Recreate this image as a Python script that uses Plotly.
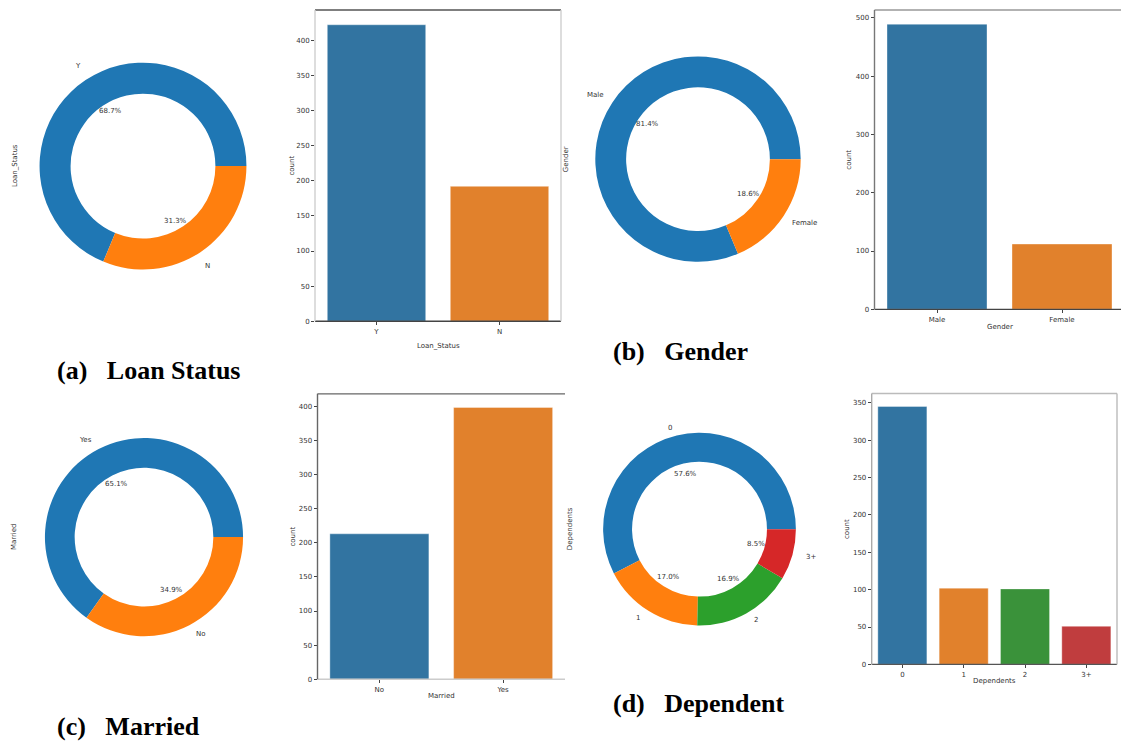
import numpy as np
import plotly.graph_objects as go

W, H = 1121, 743

# ---- data -------------------------------------------------------------
loan_status_labels = ["Y", "N"]
loan_status_counts = [422, 192]

gender_labels = ["Male", "Female"]
gender_counts = [489, 112]

married_labels = ["Yes", "No"]
married_counts = [398, 213]
married_bar_order = ["No", "Yes"]

dependents_labels = ["0", "1", "2", "3+"]
dependents_counts = [345, 102, 101, 51]

# ---- styling ----------------------------------------------------------
PIE_COLORS = ["#1f77b4", "#ff7f0e", "#2ca02c", "#d62728"]
BAR_COLORS = ["#3274a1", "#e1812c", "#3a923a", "#c03d3e"]
FONT = "DejaVu Sans"
TXT = "#333333"
SMALL = 7


def px(x):
    return x / W


def py(y):
    return 1 - y / H


panels = [
    dict(name="Loan_Status", labels=loan_status_labels, counts=loan_status_counts,
         bar_order=loan_status_labels, caption="(a)\u00a0\u00a0\u00a0Loan Status",
         cap_xy=(55, 373),
         pie_c=(143, 167), rx=98, ry=110, ylab_x=15,
         box=(315, 561, 10, 323), xright=None, dtick=50,
         spines=dict(top="#555", bottom="#444", left="#cfcfcf", right="#cfcfcf"),
         ytitle_x=292, xtitle_y=348),
    dict(name="Gender", labels=gender_labels, counts=gender_counts,
         bar_order=gender_labels, caption="(b)\u00a0\u00a0\u00a0Gender",
         cap_xy=(611, 353),
         pie_c=(698, 160), rx=100.5, ry=106, ylab_x=566,
         box=(874.5, 1124.5, 10, 311), xright=1121, dtick=100,
         spines=dict(top="#999", bottom="#444", left="#777", right=None),
         ytitle_x=849, xtitle_y=329),
    dict(name="Married", labels=married_labels, counts=married_counts,
         bar_order=married_bar_order, caption="(c)\u00a0\u00a0\u00a0Married",
         cap_xy=(55, 730),
         pie_c=(144, 540), rx=99.5, ry=99.7, ylab_x=14,
         box=(317.5, 565, 396, 683), xright=None, dtick=50,
         spines=dict(top="#666", bottom="#cccccc", left="#666", right=None),
         ytitle_x=293, xtitle_y=700),
    dict(name="Dependents", labels=dependents_labels, counts=dependents_counts,
         bar_order=dependents_labels, caption="(d)\u00a0\u00a0\u00a0Dependent",
         cap_xy=(611, 707),
         pie_c=(699.5, 532), rx=98.5, ry=95.3, ylab_x=570,
         box=(871.7, 1117, 395.7, 668), xright=None, dtick=50,
         spines=dict(top="#bbbbbb", bottom="#555", left="#aaaaaa", right="#bbbbbb"),
         ytitle_x=847, xtitle_y=685),
]

fig = go.Figure()
annotations = []
shapes = []
layout_axes = {}

for i, p in enumerate(panels):
    labels, counts = p["labels"], np.array(p["counts"], dtype=float)
    total = counts.sum()
    frac = counts / total
    cx, cy = p["pie_c"]
    r = (p["rx"] + p["ry"]) / 2

    # donut chart: first wedge begins at 3 o'clock, wedges run counter-clockwise
    fig.add_trace(go.Pie(
        labels=labels, values=counts, hole=0.7, sort=False,
        direction="counterclockwise", rotation=90 - 360 * frac[0], textinfo="none",
        marker=dict(colors=PIE_COLORS[:len(labels)], line=dict(width=0)),
        domain=dict(x=[px(cx - r), px(cx + r)], y=[py(cy + r), py(cy - r)]),
        showlegend=False, hoverinfo="label+percent",
    ))

    # category labels outside the ring and percentages inside the hole
    start = np.concatenate([[0], np.cumsum(frac)[:-1]])
    mid = (start + frac / 2) * 2 * np.pi
    for lab, f, a in zip(labels, frac, mid):
        ca, sa = np.cos(a), np.sin(a)
        lx, ly = cx + 1.1 * p["rx"] * ca, cy - 1.1 * p["ry"] * sa
        annotations.append(dict(
            x=px(lx), y=py(ly), xref="paper", yref="paper", text=lab,
            showarrow=False, xanchor="left" if ca > 0 else "right", yanchor="middle",
            font=dict(family=FONT, size=SMALL, color=TXT)))
        tx, ty = cx + 0.6 * p["rx"] * ca, cy - 0.6 * p["ry"] * sa
        annotations.append(dict(
            x=px(tx), y=py(ty), xref="paper", yref="paper", text=f"{f*100:.1f}%",
            showarrow=False, xanchor="center", yanchor="middle",
            font=dict(family=FONT, size=SMALL, color=TXT)))

    # rotated variable name beside the donut
    annotations.append(dict(
        x=px(p["ylab_x"]), y=py(cy), xref="paper", yref="paper", text=p["name"],
        textangle=-90, showarrow=False, xanchor="center", yanchor="middle",
        font=dict(family=FONT, size=SMALL, color=TXT)))

    # count plot
    order = p["bar_order"]
    bar_vals = [counts[labels.index(c)] for c in order]
    ax_id = "" if i == 0 else str(i + 1)
    fig.add_trace(go.Bar(
        x=order, y=bar_vals, width=0.8,
        marker=dict(color=BAR_COLORS[:len(order)],
                    line=dict(width=0.6, color="rgba(255,255,255,0.6)")),
        xaxis="x" + ax_id, yaxis="y" + ax_id, showlegend=False,
    ))

    l, rgt, t, b = p["box"]
    n = len(order)
    right_px = p["xright"] if p["xright"] else rgt
    unit = (rgt - l) / n
    xmax = -0.5 + (right_px - l) / unit
    ymax = max(bar_vals) * 1.05

    layout_axes["xaxis" + ax_id] = dict(
        domain=[px(l), px(right_px)], anchor="y" + ax_id, type="category",
        range=[-0.5, xmax], showgrid=False, zeroline=False, showline=False,
        ticks="outside", ticklen=3, tickcolor="#444", tickwidth=0.8,
        tickfont=dict(family=FONT, size=SMALL, color=TXT), fixedrange=True,
    )
    layout_axes["yaxis" + ax_id] = dict(
        domain=[py(b), py(t)], anchor="x" + ax_id, range=[0, ymax],
        tick0=0, dtick=p["dtick"], showgrid=False, zeroline=False, showline=False,
        ticks="outside", ticklen=3, tickcolor="#444", tickwidth=0.8,
        tickfont=dict(family=FONT, size=SMALL, color=TXT), fixedrange=True,
    )

    # axis titles
    annotations.append(dict(
        x=px(p["ytitle_x"]), y=py((t + b) / 2), xref="paper", yref="paper", text="count",
        textangle=-90, showarrow=False, xanchor="center", yanchor="middle",
        font=dict(family=FONT, size=SMALL, color=TXT)))
    annotations.append(dict(
        x=px(l + unit * n / 2), y=py(p["xtitle_y"]),
        xref="paper", yref="paper", text=p["name"], showarrow=False,
        xanchor="center", yanchor="middle", font=dict(family=FONT, size=SMALL, color=TXT)))

    # frame around the plotting area
    sp = p["spines"]
    segs = dict(top=(l, t, right_px, t), bottom=(l, b, right_px, b),
                left=(l, t, l, b), right=(rgt, t, rgt, b))
    for side, col in sp.items():
        if col is None:
            continue
        x0, y0, x1, y1 = segs[side]
        shapes.append(dict(type="line", xref="paper", yref="paper",
                           x0=px(x0), y0=py(y0), x1=px(x1), y1=py(y1),
                           line=dict(color=col, width=1.4)))

    # sub-figure caption
    cxp, cyp = p["cap_xy"]
    annotations.append(dict(
        x=px(cxp), y=py(cyp), xref="paper", yref="paper", text=f"<b>{p['caption']}</b>",
        showarrow=False, xanchor="left", yanchor="middle",
        font=dict(family="Liberation Serif", size=26, color="#000000")))

fig.update_layout(
    width=W, height=H, margin=dict(l=0, r=0, t=0, b=0),
    paper_bgcolor="white", plot_bgcolor="white",
    annotations=annotations, shapes=shapes, bargap=0.2,
    **layout_axes,
)

fig.write_html("out.html")
